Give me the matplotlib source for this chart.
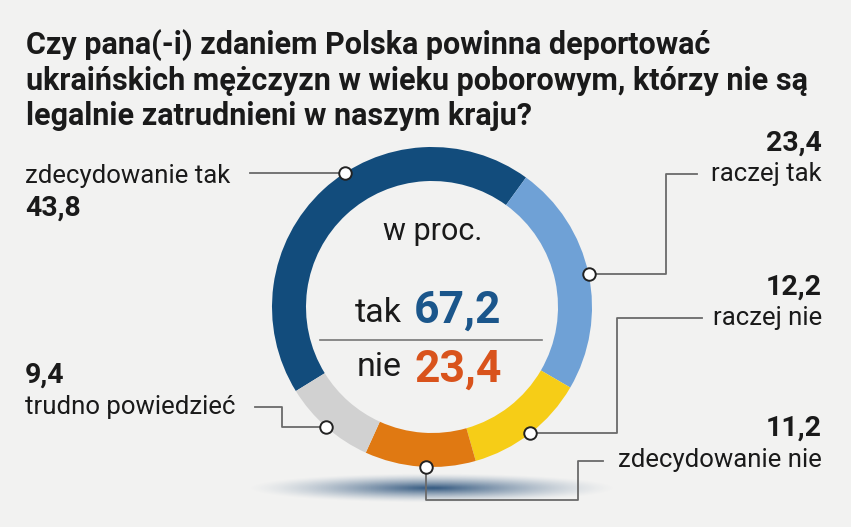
import numpy as np
import matplotlib
matplotlib.use("Agg")
import matplotlib.pyplot as plt

W, H = 851, 527

title = ("Czy pana(-i) zdaniem Polska powinna deportować\n"
         "ukraińskich mężczyzn w wieku poborowym, którzy nie są\n"
         "legalnie zatrudnieni w naszym kraju?")
categories = ["zdecydowanie tak", "raczej tak", "raczej nie",
              "zdecydowanie nie", "trudno powiedzieć"]
values = [43.8, 23.4, 12.2, 11.2, 9.4]
value_labels = ["43,8", "23,4", "12,2", "11,2", "9,4"]
colors = ["#124c7c", "#6fa1d6", "#f6cd17", "#e07912", "#d1d1d1"]
tak_total = "67,2"
nie_total = "23,4"

BG = "#f2f2f1"
LINE = "#6a6a6a"
COND = ["Roboto", "DejaVu Sans"]
REG = ["Roboto", "DejaVu Sans"]

fig = plt.figure(figsize=(W / 100, H / 100), dpi=100, facecolor=BG)
ax = fig.add_axes([0, 0, 1, 1])
ax.set_facecolor(BG)

def Y(y):
    return H - y

cx, cy, R, ring = 432, Y(307), 160, 34

# shadow under donut
gx = np.linspace(-1, 1, 400)
gy = np.linspace(-1, 1, 60)
GX, GY = np.meshgrid(gx, gy)
dist = np.sqrt(GX ** 2 + GY ** 2)
alpha = np.clip(1 - dist, 0, 1) ** 1.4
rgba = np.zeros((60, 400, 4))
rgba[..., 0] = 0x3a / 255
rgba[..., 1] = 0x5e / 255
rgba[..., 2] = 0x84 / 255
rgba[..., 3] = np.clip(alpha * 1.05, 0, 1)
ax.imshow(rgba, extent=(cx - 185, cx + 185, Y(488) - 15, Y(488) + 15),
          zorder=1, interpolation="bilinear", aspect="auto")

wedges, _ = ax.pie(values, colors=colors, radius=R, center=(cx, cy),
                   startangle=211.7, counterclock=False,
                   wedgeprops=dict(width=ring, linewidth=0), frame=True)
for w in wedges:
    w.set_zorder(2)

ax.set_xlim(0, W)
ax.set_ylim(0, H)
ax.set_aspect("auto")
ax.axis("off")

# marker positions from wedge angles
offsets = [-10, 0, 0, 2, 0]
mk = []
for w, off in zip(wedges, offsets):
    a = np.deg2rad((w.theta1 + w.theta2) / 2 + off)
    mk.append((cx + R * np.cos(a), cy + R * np.sin(a)))

# leader lines (layout)
lw = 1.3
ax.plot([250, mk[0][0]], [mk[0][1], mk[0][1]], color=LINE, lw=lw, zorder=3)
ax.plot([mk[1][0], 666, 666, 697], [mk[1][1], mk[1][1], Y(174), Y(174)],
        color=LINE, lw=lw, zorder=3)
ax.plot([mk[2][0], 617, 617, 702], [mk[2][1], mk[2][1], Y(318), Y(318)],
        color=LINE, lw=lw, zorder=3)
ax.plot([mk[3][0], mk[3][0], 578, 578, 603],
        [mk[3][1], Y(500), Y(500), Y(461), Y(461)],
        color=LINE, lw=lw, zorder=3)
ax.plot([mk[4][0], 282, 282, 255], [mk[4][1], mk[4][1], Y(407), Y(407)],
        color=LINE, lw=lw, zorder=3)

for (x, y) in mk:
    ax.plot(x, y, "o", ms=9, mfc="white", mec="#222222", mew=1.4, zorder=5)

# title
ax.text(26, Y(29), title, ha="left", va="top", fontsize=22,
        fontweight="bold", family=COND, color="#1a1a1a", linespacing=1.2)

lab_fs = 18.5
val_fs = 20.5
# left labels
ax.text(25, Y(176), categories[0], ha="left", va="center", fontsize=lab_fs,
        family=REG, color="#1a1a1a")
ax.text(25, Y(208), value_labels[0], ha="left", va="center", fontsize=val_fs,
        fontweight="bold", family=COND, color="#1a1a1a")
ax.text(25, Y(375), value_labels[4], ha="left", va="center", fontsize=val_fs,
        fontweight="bold", family=COND, color="#1a1a1a")
ax.text(25, Y(407), categories[4], ha="left", va="center", fontsize=lab_fs,
        family=REG, color="#1a1a1a")

# right labels
RX = 822
for i, (ly, vy) in zip([1, 2, 3], [(174, 143), (318, 287), (460, 428)]):
    ax.text(RX, Y(ly), categories[i], ha="right", va="center",
            fontsize=lab_fs, family=REG, color="#1a1a1a")
    ax.text(RX, Y(vy), value_labels[i], ha="right", va="center",
            fontsize=val_fs, fontweight="bold", family=COND, color="#1a1a1a")

# center
ax.text(433, Y(232), "w proc.", ha="center", va="center", fontsize=22,
        family=REG, color="#1a1a1a")
ax.text(402, Y(313), "tak", ha="right", va="center", fontsize=24.5,
        family=REG, color="#1a1a1a")
ax.text(414, Y(311), tak_total, ha="left", va="center", fontsize=32,
        fontweight="bold", family=COND, color="#1b568b")
ax.plot([320, 542], [Y(340), Y(340)], color="#777777", lw=1.2, zorder=3)
ax.text(402, Y(367), "nie", ha="right", va="center", fontsize=24.5,
        family=REG, color="#1a1a1a")
ax.text(414, Y(370), nie_total, ha="left", va="center", fontsize=32,
        fontweight="bold", family=COND, color="#d9531c")

fig.savefig("out.png", dpi=100, facecolor=BG)
